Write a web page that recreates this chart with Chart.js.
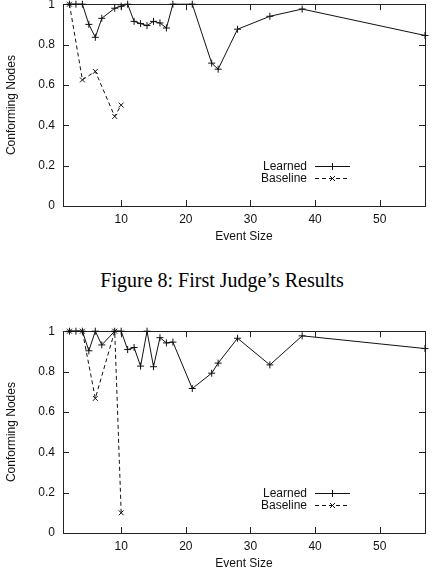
<!DOCTYPE html>
<html>
<head>
<meta charset="utf-8">
<script src="https://cdn.jsdelivr.net/npm/chart.js@4.4.0/dist/chart.umd.min.js"></script>
<style>
  html, body { margin: 0; padding: 0; background: #fff; }
  body { width: 434px; height: 576px; position: relative; overflow: hidden; }
  .box { position: absolute; left: 0; width: 434px; }
  .caption {
    position: absolute; left: 0; width: 444px; top: 269px;
    text-align: center; font-family: "Liberation Serif", "Times New Roman", serif;
    font-size: 20px; line-height: 22px; color: #000;
  }
</style>
</head>
<body>
<div class="box" id="box1" style="top:-11px; height:259px;"><canvas id="chart1" width="434" height="259"></canvas></div>
<div class="caption">Figure 8: First Judge’s Results</div>
<div class="box" id="box2" style="top:316px; height:259px;"><canvas id="chart2" width="434" height="259"></canvas></div>
<script>
// Размеры событий и значения (чтение с картинки)
const learnedSizes = [2, 3, 4, 5, 6, 7, 9, 10, 11, 12, 13, 14, 15, 16, 17, 18, 21, 24, 25, 28, 33, 38, 57];
const baselineSizes = [2, 4, 6, 9, 10];

// Первый судья
const learned1 = [1, 1, 1, 0.9, 0.836, 0.93, 0.98, 0.99, 1, 0.915, 0.904, 0.894, 0.915, 0.907, 0.882, 1, 1, 0.708, 0.678, 0.876, 0.94, 0.976, 0.845];
const baseline1 = [1, 0.625, 0.667, 0.444, 0.5];

// Второй судья
const learned2 = [1, 1, 1, 0.903, 1, 0.932, 1, 1, 0.909, 0.919, 0.827, 1, 0.824, 0.968, 0.942, 0.946, 0.716, 0.792, 0.842, 0.965, 0.833, 0.977, 0.914];
const baseline2 = [1, 1, 0.667, 1, 0.1];

// Деления осей
const xTicks = [10, 20, 30, 40, 50];
const yTicks = [0, 0.2, 0.4, 0.6, 0.8, 1];
const yTickLabels = ['0', '0.2', '0.4', '0.6', '0.8', '1'];

Chart.defaults.font.family = '"Liberation Sans", Arial, sans-serif';
Chart.defaults.font.size = 12;
Chart.defaults.color = '#111';

function toPoints(xs, ys) {
    return xs.map((x, i) => ({ x: x, y: ys[i] }));
}

// Рамка и внутренние засечки в стиле gnuplot
const gnuFrame = {
    id: 'gnuFrame',
    beforeDatasetsDraw(chart) {
        const ctx = chart.ctx;
        const a = chart.chartArea;
        const xs = chart.scales.x, ys = chart.scales.y;
        const len = 6;
        ctx.save();
        ctx.strokeStyle = '#222';
        ctx.lineWidth = 1;
        ctx.strokeRect(Math.round(a.left) + 0.5, Math.round(a.top) + 0.5,
            Math.round(a.right - a.left), Math.round(a.bottom - a.top));
        ctx.beginPath();
        xTicks.forEach(v => {
            const px = Math.round(xs.getPixelForValue(v)) + 0.5;
            ctx.moveTo(px, a.bottom); ctx.lineTo(px, a.bottom - len);
            ctx.moveTo(px, a.top); ctx.lineTo(px, a.top + len);
        });
        yTicks.forEach(v => {
            const py = Math.round(ys.getPixelForValue(v)) + 0.5;
            ctx.moveTo(a.left, py); ctx.lineTo(a.left + len, py);
            ctx.moveTo(a.right, py); ctx.lineTo(a.right - len, py);
        });
        ctx.stroke();
        ctx.restore();
    },
    afterDatasetsDraw(chart) {
        // Легенда внутри графика, справа снизу
        const ctx = chart.ctx;
        const a = chart.chartArea;
        ctx.save();
        ctx.font = '12px "Liberation Sans", Arial, sans-serif';
        ctx.textAlign = 'right';
        ctx.textBaseline = 'middle';
        chart.data.datasets.forEach((ds, i) => {
            const y = Math.round(a.bottom - 40 + i * 12.4) + 0.5;
            ctx.fillStyle = '#111';
            ctx.fillText(ds.label, a.right - 118, y);
            ctx.strokeStyle = ds.borderColor;
            ctx.lineWidth = 1;
            ctx.setLineDash(ds.borderDash || []);
            ctx.beginPath();
            ctx.moveTo(a.right - 110, y);
            ctx.lineTo(a.right - 75, y);
            ctx.stroke();
            ctx.setLineDash([]);
            Chart.helpers.drawPoint(ctx, {
                pointStyle: ds.pointStyle, radius: ds.pointRadius,
                rotation: 0, borderWidth: 1
            }, a.right - 92.5, y);
        });
        ctx.restore();
    }
};

function makeChart(id, learned, baseline) {
    return new Chart(document.getElementById(id), {
        type: 'line',
        data: {
            datasets: [{
                label: 'Learned',
                data: toPoints(learnedSizes, learned),
                borderColor: '#111',
                backgroundColor: '#111',
                borderWidth: 1,
                pointStyle: 'cross',
                pointRadius: 3.5,
                pointBorderWidth: 1,
                tension: 0,
                clip: false
            }, {
                label: 'Baseline',
                data: toPoints(baselineSizes, baseline),
                borderColor: '#111',
                backgroundColor: '#111',
                borderWidth: 1,
                borderDash: [4, 3],
                pointStyle: 'crossRot',
                pointRadius: 3.5,
                pointBorderWidth: 1,
                tension: 0,
                clip: false
            }]
        },
        options: {
            responsive: false,
            animation: false,
            layout: { padding: { left: 0, right: 9, top: 0, bottom: 0 } },
            plugins: {
                legend: { display: false },
                tooltip: { enabled: false }
            },
            scales: {
                x: {
                    type: 'linear',
                    min: 1,
                    max: 57,
                    grid: { display: false, drawTicks: false },
                    border: { display: false },
                    afterBuildTicks: function(scale) {
                        scale.ticks = xTicks.map(v => ({ value: v }));
                    },
                    afterFit: function(scale) { scale.height = 42; },
                    ticks: { padding: 6, maxRotation: 0, color: '#111' },
                    title: {
                        display: true,
                        text: 'Event Size',
                        color: '#111',
                        padding: { top: 4, bottom: 4 }
                    }
                },
                y: {
                    min: 0,
                    max: 1,
                    grid: { display: false, drawTicks: false },
                    border: { display: false },
                    afterBuildTicks: function(scale) {
                        scale.ticks = yTicks.map(v => ({ value: v }));
                    },
                    afterFit: function(scale) { scale.width = 63; },
                    ticks: {
                        padding: 8,
                        color: '#111',
                        callback: function(value, index) {
                            return yTickLabels[index];
                        }
                    },
                    title: {
                        display: true,
                        text: 'Conforming Nodes',
                        color: '#111',
                        padding: { top: 4, bottom: 4 }
                    }
                }
            }
        },
        plugins: [gnuFrame]
    });
}

makeChart('chart1', learned1, baseline1);
makeChart('chart2', learned2, baseline2);
</script>
</body>
</html>
